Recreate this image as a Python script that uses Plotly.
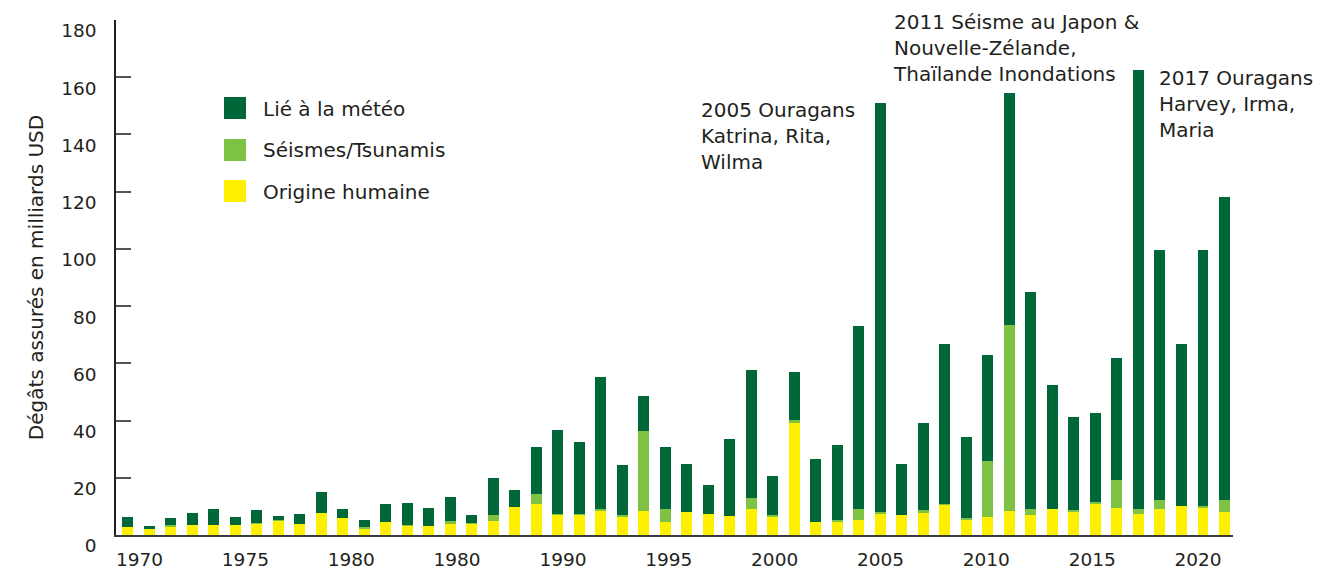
import plotly.graph_objects as go

years = list(range(1970, 2022))

origine_humaine = [2.9, 2.2, 2.9, 3.6, 3.6, 3.6, 4.0, 5.0, 4.0, 7.8,
                   6.0, 2.3, 4.7, 3.3, 3.3, 4.0, 4.0, 5.0, 9.8, 10.8,
                   7.0, 7.0, 8.7, 6.3, 8.4, 4.5, 8.0, 7.3, 6.6, 9.1,
                   6.6, 39.1, 4.5, 4.5, 5.4, 7.4, 6.9, 7.6, 10.7, 5.1,
                   6.2, 8.3, 6.9, 9.0, 8.3, 11.0, 9.3, 7.2, 9.0, 10.0,
                   9.7, 7.9]

seismes = [0, 0, 0.7, 0, 0, 0, 0.3, 0.2, 0, 0,
           0, 0.4, 0, 0.3, 0, 1.0, 0.3, 2.1, 0, 3.5,
           0.3, 0.3, 0.4, 0.7, 27.9, 4.6, 0, 0, 0, 3.8,
           0.4, 1.0, 0, 0.7, 3.8, 0.7, 0, 1.0, 0.3, 0.7,
           19.8, 65.2, 2.1, 0, 0.3, 0.4, 9.8, 1.8, 3.1, 0,
           0.3, 4.2]

meteo = [3.5, 1.1, 2.4, 4.2, 5.6, 2.8, 4.5, 1.5, 3.4, 7.3,
         3.2, 2.6, 6.2, 7.7, 6.2, 8.4, 2.8, 12.9, 5.9, 16.4,
         29.3, 25.1, 46.0, 17.4, 12.2, 21.6, 16.8, 10.1, 26.9, 44.7,
         13.6, 16.8, 22.0, 26.2, 63.7, 142.9, 17.8, 30.4, 55.9, 28.3,
         37.0, 81.1, 76.0, 43.6, 32.8, 31.4, 42.9, 153.6, 87.4, 56.9,
         89.5, 106.2]

x_tick_years = [1970, 1975, 1980, 1985, 1990, 1995, 2000, 2005, 2010, 2015, 2020]
x_tick_text = ["1970", "1975", "1980", "1980", "1990", "1995", "2000", "2005", "2010", "2015", "2020"]
y_tick_vals = [0, 20, 40, 60, 80, 100, 120, 140, 160, 180]

series_names = ["Origine humaine", "Séismes/Tsunamis", "Lié à la météo"]
series_colors = ["#FFF000", "#7DC242", "#006838"]
legend_ranks = [3, 2, 1]

annotations_text = [
    "2005 Ouragans<br>Katrina, Rita,<br>Wilma",
    "2011 Séisme au Japon &<br>Nouvelle-Zélande,<br>Thaïlande Inondations",
    "2017 Ouragans<br>Harvey, Irma,<br>Maria",
]

FONT = "DejaVu Sans"
TXT = "#231F20"
FS = 20
TFS = 18.5

fig = go.Figure()
for name, vals, col, rk in zip(series_names, [origine_humaine, seismes, meteo], series_colors, legend_ranks):
    fig.add_trace(go.Bar(x=years, y=vals, name=name, legendgroup=name, legendrank=rk,
                         marker=dict(color=col, line=dict(width=0))))

# page body has an 8px margin: figure pixel = window pixel - 8
OFF = 8
W, H = 1344 - OFF, 571 - OFF
ml, mr, mt, mb = 116 - OFF, 111, 20 - OFF, 36
pw, ph = W - ml - mr, H - mt - mb

def px_x(p):
    return (p - OFF - ml) / pw

def px_y(p):
    return (H - mb - (p - OFF)) / ph

# the original's year labels sit slightly off their bars (spread a bit tighter)
x_tick_pos = [yr + 0.56 - 0.079 * i for i, yr in enumerate(x_tick_years)]

ann_pos = [(699, 96), (891, 8), (1157, 64)]
annotations = []
for txt, (ax, ay) in zip(annotations_text, ann_pos):
    annotations.append(dict(text=txt, xref="paper", yref="paper", x=px_x(ax), y=px_y(ay),
                            xanchor="left", yanchor="top", align="left", showarrow=False,
                            font=dict(family=FONT, size=FS, color=TXT)))

# larger legend swatches drawn under the native legend symbols
shapes = []
swatch_rows = [108, 150, 191]
for col, cy in zip(series_colors[::-1], swatch_rows):
    shapes.append(dict(type="rect", xref="paper", yref="paper",
                       x0=px_x(224), x1=px_x(246), y0=px_y(cy + 11), y1=px_y(cy - 11),
                       fillcolor=col, line=dict(width=0), layer="above"))

fig.update_layout(
    width=W, height=H,
    margin=dict(l=ml, r=mr, t=mt, b=mb, autoexpand=False),
    barmode="stack",
    bargap=0.49,
    plot_bgcolor="white",
    paper_bgcolor="white",
    font=dict(family=FONT, size=FS, color=TXT),
    showlegend=True,
    legend=dict(x=px_x(207), y=px_y(88.5), xanchor="left", yanchor="top",
                traceorder="grouped", tracegroupgap=12.5, itemwidth=46,
                font=dict(family=FONT, size=FS, color=TXT),
                bgcolor="rgba(0,0,0,0)"),
    annotations=annotations,
    shapes=shapes,
    xaxis=dict(range=[1969.465, 2021.395], tickvals=x_tick_pos, ticktext=x_tick_text,
               showgrid=False, zeroline=False, showline=True, linecolor="#3A3A3A", linewidth=2,
               ticks="", ticklabelstandoff=7, automargin=False,
               tickfont=dict(family=FONT, size=TFS, color=TXT)),
    yaxis=dict(range=[0, 180], tickvals=y_tick_vals, showgrid=False, zeroline=False,
               showline=True, linecolor="#231F20", linewidth=1.5,
               ticks="inside", ticklen=15, tickcolor="#555555", tickwidth=1.5,
               ticklabelshift=11, ticklabelstandoff=14, automargin=False,
               tickfont=dict(family=FONT, size=TFS, color=TXT),
               title=dict(text="Dégâts assurés en milliards USD", standoff=12,
                          font=dict(family=FONT, size=FS, color=TXT))),
)

fig.write_html("out.html")
